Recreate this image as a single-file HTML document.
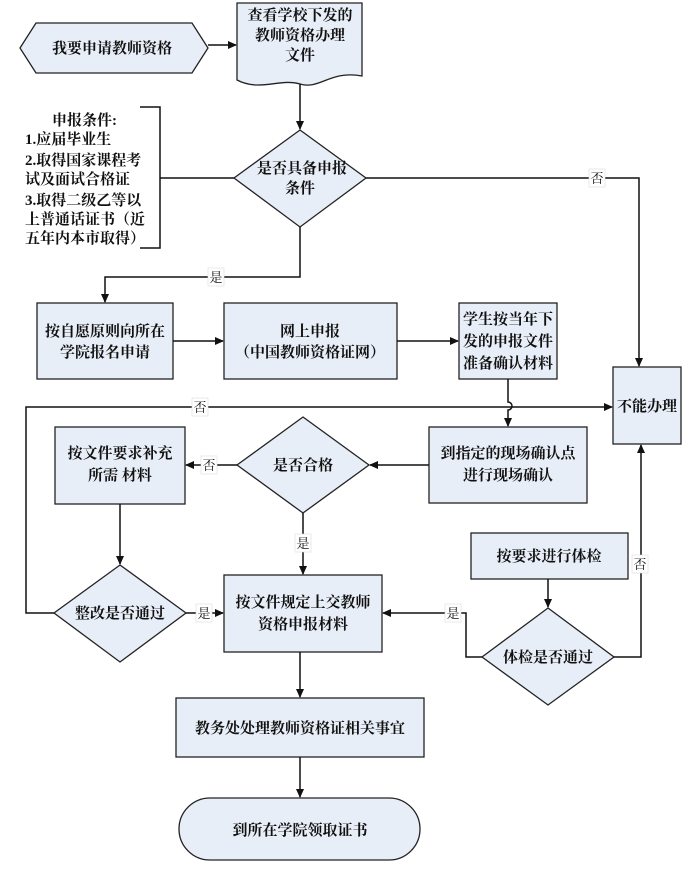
<!DOCTYPE html>
<html><head><meta charset="utf-8"><style>
html,body{margin:0;padding:0;background:#fff;}
svg{display:block;}
text{font-family:"Liberation Serif","Noto Serif CJK SC",serif;font-size:15px;font-weight:bold;fill:#111;text-anchor:middle;}
.s{fill:#e8eef7;stroke:#222;stroke-width:1.3;}
.l{fill:none;stroke:#111;stroke-width:1.5;}
.lb{font-weight:normal;font-size:13px;}
</style></head><body>
<svg width="698" height="873" viewBox="0 0 698 873" xmlns="http://www.w3.org/2000/svg">
<defs><marker id="a" markerWidth="10" markerHeight="10" refX="8" refY="4" orient="auto" markerUnits="userSpaceOnUse"><path d="M0,0 L9,4 L0,8 z" fill="#111"/></marker></defs>

<polygon class="s" points="20,48 36,23 192,23 208,48 192,73 36,73"/>
<text x="112" y="53">我要申请教师资格</text>
<path class="s" d="M237,3 H362 V76 C330,70 320,90 300,84 C280,78 260,92 237,80 Z"/>
<text x="300" y="20">查看学校下发的</text>
<text x="300" y="40">教师资格办理</text>
<text x="300" y="60">文件</text>

<polygon class="s" points="300,130 366,178 300,227 234,178"/>
<text x="302" y="173">是否具备申报</text>
<text x="300" y="193">条件</text>

<path class="l" d="M140,107 H160 V248 H140" stroke-width="1"/>
<text x="52" y="125" style="text-anchor:start">申报条件:</text>
<text x="25" y="144" style="text-anchor:start">1.应届毕业生</text>
<text x="25" y="165" style="text-anchor:start">2.取得国家课程考</text>
<text x="25" y="184" style="text-anchor:start">试及面试合格证</text>
<text x="25" y="205" style="text-anchor:start">3.取得二级乙等以</text>
<text x="25" y="224" style="text-anchor:start">上普通话证书（近</text>
<text x="25" y="243" style="text-anchor:start">五年内本市取得）</text>

<rect class="s" x="37" y="303" width="136" height="76"/>
<text x="105" y="336">按自愿原则向所在</text>
<text x="105" y="357">学院报名申请</text>
<rect class="s" x="224" y="303" width="173" height="76"/>
<text x="310" y="336">网上申报</text>
<text x="310" y="357">（中国教师资格证网）</text>
<rect class="s" x="459" y="303" width="98" height="76"/>
<text x="508" y="324">学生按当年下</text>
<text x="508" y="346">发的申报文件</text>
<text x="508" y="368">准备确认材料</text>

<rect class="s" x="613" y="367" width="68" height="77"/>
<text x="647" y="411">不能办理</text>

<rect class="s" x="429" y="427" width="158" height="76"/>
<text x="508" y="458">到指定的现场确认点</text>
<text x="508" y="480">进行现场确认</text>

<polygon class="s" points="303,417 369,465 303,513 237,465"/>
<text x="303" y="470">是否合格</text>

<rect class="s" x="55" y="427" width="130" height="77"/>
<text x="120" y="458">按文件要求补充</text>
<text x="120" y="480">所需 材料</text>

<polygon class="s" points="120,565 186,613 120,662 54,613"/>
<text x="120" y="618">整改是否通过</text>

<rect class="s" x="224" y="575" width="158" height="77"/>
<text x="303" y="607">按文件规定上交教师</text>
<text x="303" y="629">资格申报材料</text>

<rect class="s" x="471" y="533" width="157" height="46"/>
<text x="549" y="561">按要求进行体检</text>
<polygon class="s" points="548,608 614,657 548,705 482,657"/>
<text x="548" y="662">体检是否通过</text>

<rect class="s" x="176" y="698" width="248" height="59"/>
<text x="300" y="733">教务处处理教师资格证相关事宜</text>
<rect class="s" x="179" y="798" width="241" height="62" rx="31" ry="31"/>
<text x="300" y="835">到所在学院领取证书</text>

<line class="l" x1="208" y1="45" x2="236" y2="45" marker-end="url(#a)"/>
<line class="l" x1="300" y1="84" x2="300" y2="129" marker-end="url(#a)"/>
<line class="l" x1="160" y1="178" x2="234" y2="178" stroke-width="1"/>
<path class="l" d="M366,178 H639 V366" marker-end="url(#a)"/>
<path class="l" d="M300,227 V277 H105 V302" marker-end="url(#a)"/>
<line class="l" x1="173" y1="341" x2="223" y2="341" marker-end="url(#a)"/>
<line class="l" x1="397" y1="341" x2="458" y2="341" marker-end="url(#a)"/>
<path class="l" d="M508,379 V402 A4,4 0 0 1 508,410 V426" marker-end="url(#a)"/>
<path class="l" d="M54,613 H26 V407 H612" marker-end="url(#a)"/>
<line class="l" x1="429" y1="465" x2="370" y2="465" marker-end="url(#a)"/>
<line class="l" x1="237" y1="465" x2="186" y2="465" marker-end="url(#a)"/>
<line class="l" x1="120" y1="504" x2="120" y2="564" marker-end="url(#a)"/>
<line class="l" x1="303" y1="513" x2="303" y2="574" marker-end="url(#a)"/>
<line class="l" x1="186" y1="613" x2="223" y2="613" marker-end="url(#a)"/>
<line class="l" x1="548" y1="579" x2="548" y2="607" marker-end="url(#a)"/>
<path class="l" d="M482,657 H466 V613 H383" marker-end="url(#a)"/>
<path class="l" d="M614,657 H641 V445" marker-end="url(#a)"/>
<line class="l" x1="300" y1="652" x2="300" y2="697" marker-end="url(#a)"/>
<line class="l" x1="300" y1="757" x2="300" y2="797" marker-end="url(#a)"/>

<rect x="589" y="169" width="16" height="18" fill="#fff" stroke="#ddd" stroke-width="0.6"/><text class="lb" x="597" y="183">否</text>
<rect x="208" y="268" width="16" height="18" fill="#fff" stroke="#ddd" stroke-width="0.6"/><text class="lb" x="216" y="282">是</text>
<rect x="192" y="398" width="16" height="18" fill="#fff" stroke="#ddd" stroke-width="0.6"/><text class="lb" x="200" y="412">否</text>
<rect x="201" y="456" width="16" height="18" fill="#fff" stroke="#ddd" stroke-width="0.6"/><text class="lb" x="209" y="470">否</text>
<rect x="295" y="534" width="16" height="18" fill="#fff" stroke="#ddd" stroke-width="0.6"/><text class="lb" x="303" y="548">是</text>
<rect x="196" y="604" width="16" height="18" fill="#fff" stroke="#ddd" stroke-width="0.6"/><text class="lb" x="204" y="618">是</text>
<rect x="445" y="604" width="16" height="18" fill="#fff" stroke="#ddd" stroke-width="0.6"/><text class="lb" x="453" y="618">是</text>
<rect x="632" y="555" width="16" height="18" fill="#fff" stroke="#ddd" stroke-width="0.6"/><text class="lb" x="640" y="569">否</text>
</svg>
</body></html>
